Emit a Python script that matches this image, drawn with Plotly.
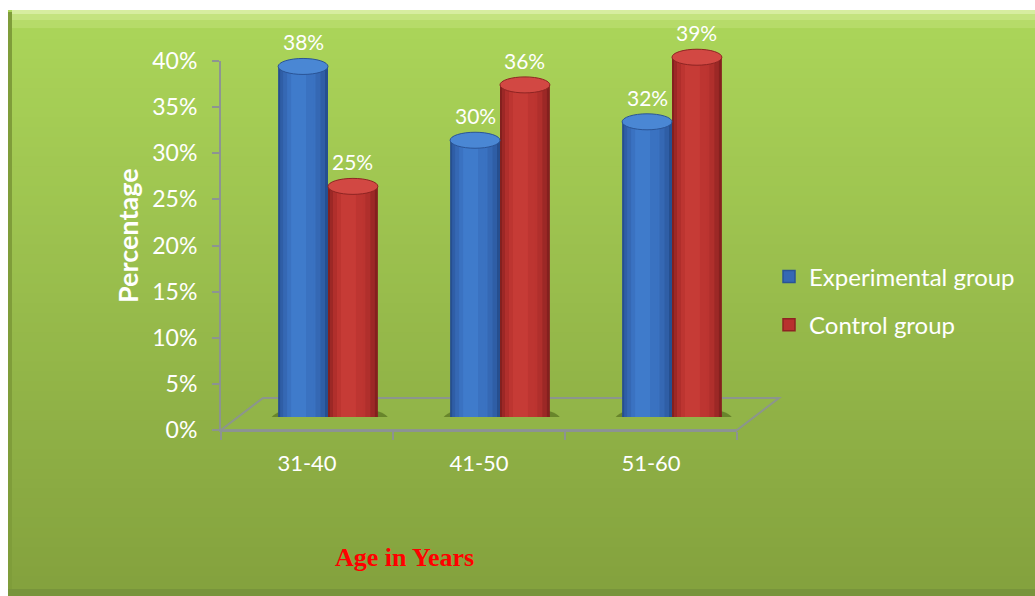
import plotly.graph_objects as go

# ---------------- data ----------------
categories = ["31-40", "41-50", "51-60"]
experimental = [38, 30, 32]
control = [25, 36, 39]
series_names = ["Experimental group", "Control group"]
y_ticks = [0, 5, 10, 15, 20, 25, 30, 35, 40]
y_tick_labels = ["%d%%" % v for v in y_ticks]

# ---------------- geometry (pixels) ----------------
W, H = 1035, 596
L, R_EDGE, B_Y, T_Y = 221, 779, 430, 20
PW, PH = R_EDGE - L, B_Y - T_Y
FRONT_W = 516
DX_MID, DY_MID = 21, 13
DX_BACK, DY_BACK = 42, 32
Y40_PX = 61
AX_H = B_Y - Y40_PX


def px(X):
    return (X - L) / PW


def py(Y):
    return (B_Y - Y) / PH


fig = go.Figure()

BW = 0.29  # bar width in category units
CAP_H = 16 / (AX_H / 40)  # ellipse height in value units

styles = {
    "Experimental group": dict(
        off=-BW,
        layers=["#264f90", "#2f5ea6", "#3568b4", "#3a72c1", "#3f7bcb", "#3a72c1"],
        cap="#4a87d4", rim="#2a5496", legend="#3568b4"),
    "Control group": dict(
        off=0.0,
        layers=["#84201e", "#9c2826", "#b02f2c", "#bd3531", "#c63b36", "#bb3430"],
        cap="#d24843", rim="#8e2422", legend="#b8312e"),
}
# (left fraction, width fraction) for the shading layers
layer_geo = [(0.0, 1.0), (0.04, 0.9), (0.1, 0.75), (0.18, 0.55), (0.26, 0.3), (0.7, 0.05)]

shapes = []

# background panel gradient (each band runs to the bottom to avoid seams)
top_c = (172, 214, 90)
bot_c = (132, 162, 62)
n_bands = 60
y_start, y_end = 10, 596
for i in range(n_bands):
    t = i / (n_bands - 1)
    c = tuple(int(top_c[k] + (bot_c[k] - top_c[k]) * t) for k in range(3))
    y0 = y_start + (y_end - y_start) * i / n_bands
    shapes.append(dict(type="rect", xref="paper", yref="paper", layer="below",
                       x0=px(8), x1=px(W + 2), y0=py(y_end + 4), y1=py(y0),
                       fillcolor="rgb(%d,%d,%d)" % c, line=dict(width=0)))
# top bevel
for a, b, col in [(10, 14, "#d7eda0"), (14, 20, "#c4e37f"), (20, 28, "#b6db69")]:
    shapes.append(dict(type="rect", xref="paper", yref="paper", layer="below",
                       x0=px(12), x1=px(W + 2), y0=py(b), y1=py(a),
                       fillcolor=col, line=dict(width=0)))
# left / bottom darker edges
shapes.append(dict(type="rect", xref="paper", yref="paper", layer="below",
                   x0=px(8), x1=px(12), y0=py(W), y1=py(12),
                   fillcolor="#7f9d3a", line=dict(width=0)))
shapes.append(dict(type="rect", xref="paper", yref="paper", layer="below",
                   x0=px(8), x1=px(W + 2), y0=py(600), y1=py(589),
                   fillcolor="#78943b", line=dict(width=0)))

# floor (3D base)
fx0, fx1 = 0, FRONT_W / PW
bx0, bx1 = DX_BACK / PW, (FRONT_W + DX_BACK) / PW
by = DY_BACK / PH
shapes.append(dict(type="path", xref="paper", yref="paper", layer="below",
                   path="M %f,0 L %f,0 L %f,%f L %f,%f Z" % (fx0, fx1, bx1, by, bx0, by),
                   fillcolor="rgba(150,190,80,0.25)",
                   line=dict(color="rgba(140,145,150,0.9)", width=2)))

# shadows under the bar pairs
for i, cat in enumerate(categories):
    shapes.append(dict(type="circle", xref="x2", yref="y2", layer="below",
                       x0=i - BW - 0.04, x1=i + BW + 0.06,
                       y0=-CAP_H * 0.9, y1=CAP_H * 0.7,
                       fillcolor="rgba(70,95,20,0.55)", line=dict(width=0)))

values_by_series = {"Experimental group": experimental, "Control group": control}
annotations = []

# invisible trace so the front axes (x/y) are drawn
fig.add_trace(go.Scatter(x=categories, y=[None] * len(categories), xaxis="x", yaxis="y",
                         mode="markers", showlegend=False, hoverinfo="skip"))

for name in series_names:
    st = styles[name]
    vals = values_by_series[name]
    for li, ((lf, wf), col) in enumerate(zip(layer_geo, st["layers"])):
        fig.add_trace(go.Bar(
            x=categories, y=vals, xaxis="x2", yaxis="y2",
            offset=st["off"] + lf * BW, width=wf * BW,
            marker=dict(color=col, line=dict(width=0)),
            name=name, showlegend=False, hoverinfo="skip"))
    # legend-only trace
    fig.add_trace(go.Bar(
        x=[None], y=[None], xaxis="x2", yaxis="y2", name=name,
        marker=dict(color=st["legend"], line=dict(color=st["rim"], width=1.5)),
        showlegend=True, legendgroup=name))
    for i, v in enumerate(vals):
        # bottom ellipse
        shapes.append(dict(type="circle", xref="x2", yref="y2", layer="below",
                           x0=i + st["off"], x1=i + st["off"] + BW,
                           y0=-CAP_H / 2, y1=CAP_H / 2,
                           fillcolor=st["layers"][1], line=dict(width=0)))
        # top cap
        shapes.append(dict(type="circle", xref="x2", yref="y2", layer="above",
                           x0=i + st["off"], x1=i + st["off"] + BW,
                           y0=v - CAP_H / 2, y1=v + CAP_H / 2,
                           fillcolor=st["cap"], line=dict(color=st["rim"], width=1)))
        annotations.append(dict(
            x=i + st["off"] + BW / 2, y=v, xref="x2", yref="y2",
            text="%d%%" % v, showarrow=False, xanchor="center", yanchor="bottom", yshift=10,
            font=dict(family="Lato", size=21, color="white")))

# axis titles
annotations.append(dict(x=px(127), y=py(236), xref="paper", yref="paper",
                        xanchor="center", yanchor="middle",
                        text="<b>Percentage</b>", textangle=-90, showarrow=False,
                        font=dict(family="Lato", size=27, color="white")))
annotations.append(dict(x=px(404), y=py(557), xref="paper", yref="paper",
                        xanchor="center", yanchor="middle",
                        text="<b>Age in Years</b>", showarrow=False,
                        font=dict(family="Liberation Serif", size=26, color="#ff0000")))

axis_gray = "rgba(140,145,150,0.95)"
fig.update_layout(
    width=W, height=H,
    margin=dict(l=L, r=W - R_EDGE, t=T_Y, b=H - B_Y, autoexpand=False),
    paper_bgcolor="white", plot_bgcolor="rgba(0,0,0,0)",
    barmode="overlay",
    font=dict(family="Lato", color="white"),
    xaxis=dict(domain=[0, FRONT_W / PW], type="category", categoryorder="array",
               categoryarray=categories, range=[-0.5, 2.5],
               tickvals=categories, ticktext=categories,
               showline=True, linecolor=axis_gray, linewidth=2,
               ticks="outside", tickson="boundaries", ticklen=8, tickcolor=axis_gray,
               tickwidth=2, showgrid=False, zeroline=False,
               tickfont=dict(family="Lato", size=22, color="white"),
               ticklabelstandoff=13),
    yaxis=dict(domain=[0, AX_H / PH], range=[0, 40], tickvals=y_ticks,
               ticktext=y_tick_labels, showline=True, linecolor=axis_gray, linewidth=2,
               ticks="outside", ticklen=7, tickcolor=axis_gray, tickwidth=2,
               showgrid=False, zeroline=False, ticklabelstandoff=10,
               tickfont=dict(family="Lato", size=23, color="white")),
    xaxis2=dict(domain=[DX_MID / PW, (DX_MID + FRONT_W) / PW], type="category",
                categoryorder="array", categoryarray=categories, range=[-0.5, 2.5],
                anchor="y2", visible=False),
    yaxis2=dict(domain=[DY_MID / PH, (DY_MID + AX_H) / PH], range=[0, 40],
                anchor="x2", visible=False),
    legend=dict(x=px(769), y=py(301), xanchor="left", yanchor="middle",
                bgcolor="rgba(0,0,0,0)", font=dict(family="Lato", size=24, color="white"),
                tracegroupgap=14, traceorder="grouped"),
    shapes=shapes,
    annotations=annotations,
)

fig.write_html("out.html")
